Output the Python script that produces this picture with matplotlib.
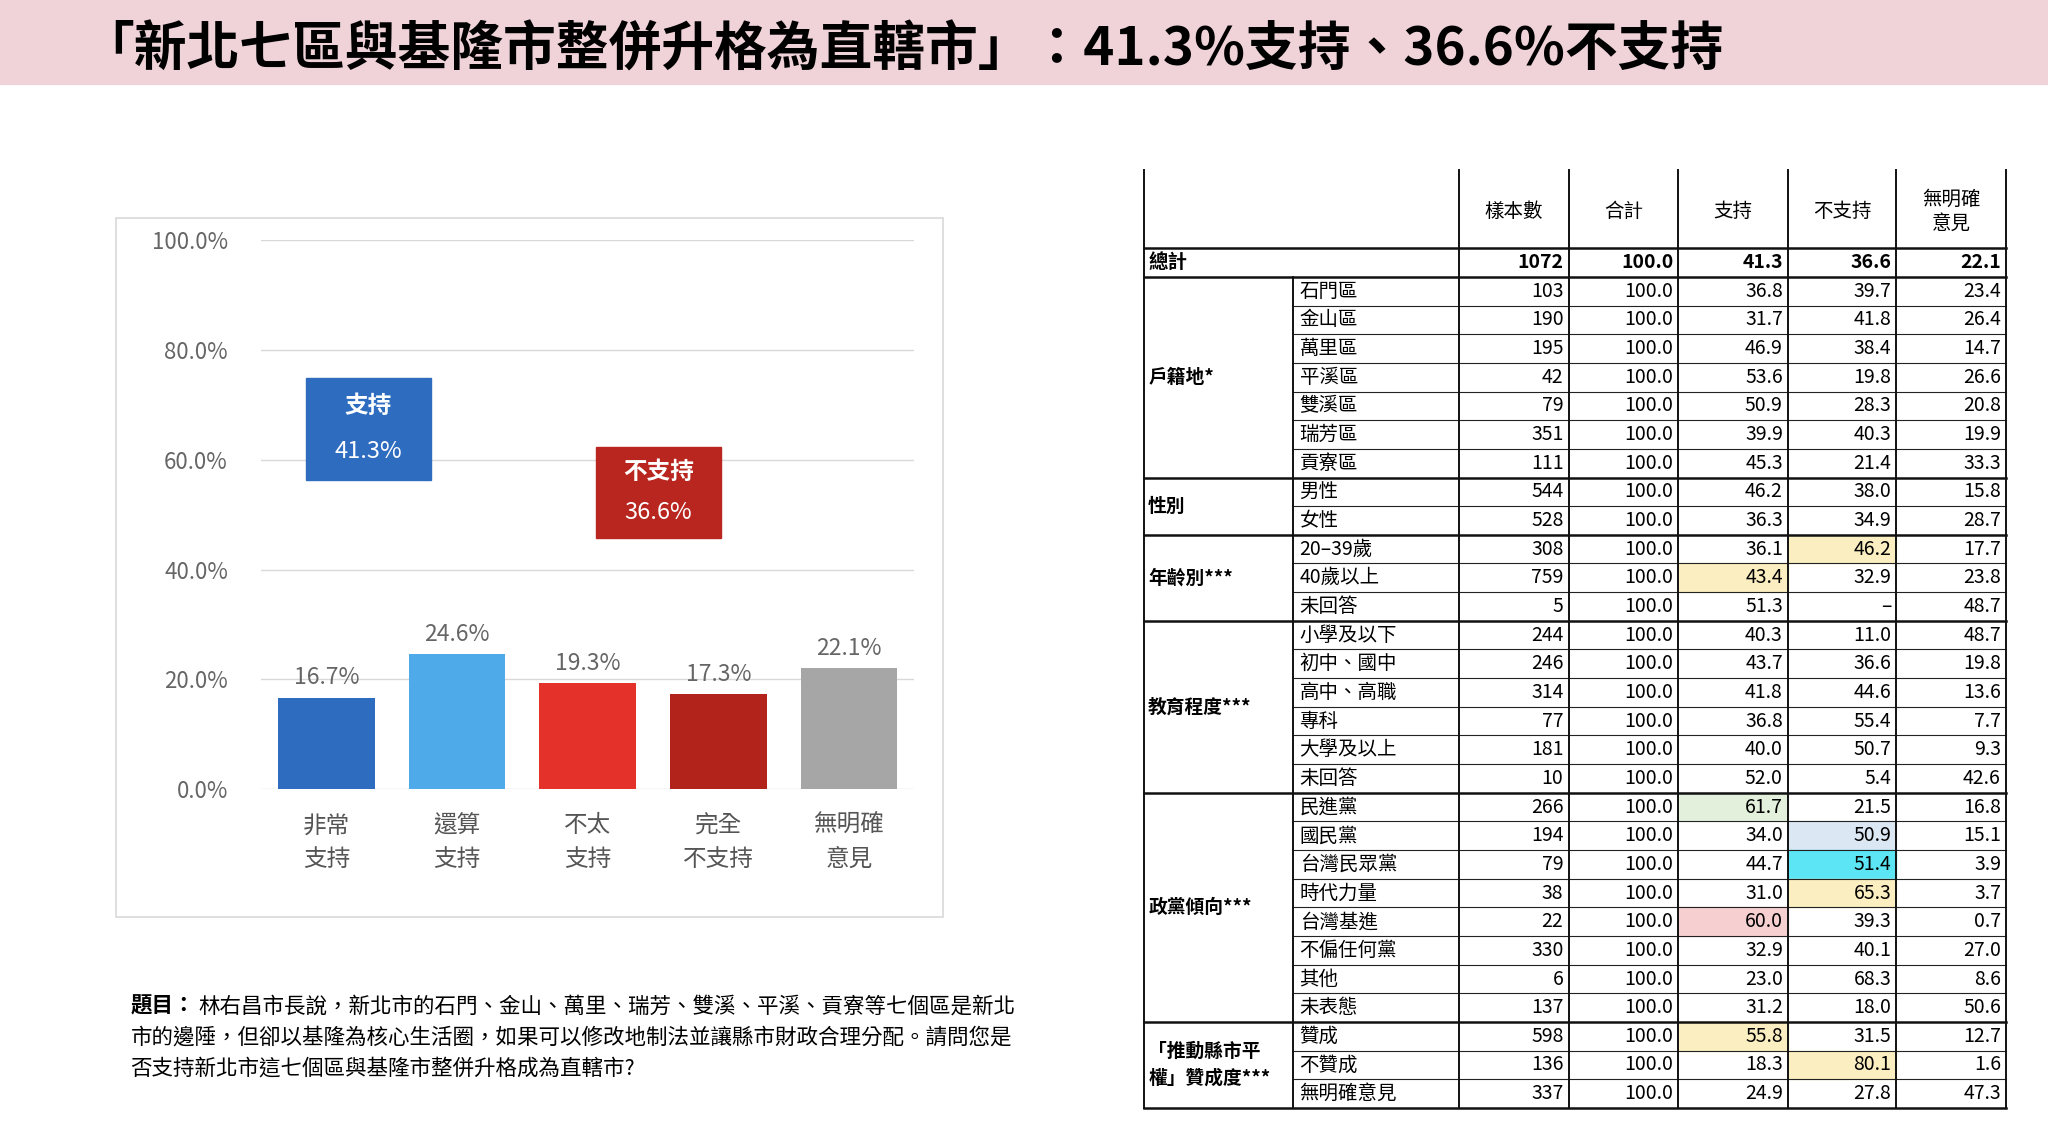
import matplotlib
matplotlib.use("Agg")
import matplotlib.pyplot as plt
from matplotlib.patches import Rectangle

plt.rcParams['font.family'] = ['Noto Sans CJK TC', 'DejaVu Sans']

title = "「新北七區與基隆市整併升格為直轄市」：41.3%支持、36.6%不支持"
categories = ["非常\n支持", "還算\n支持", "不太\n支持", "完全\n不支持", "無明確\n意見"]
values = [16.7, 24.6, 19.3, 17.3, 22.1]
bar_colors = ["#2e6cbf", "#4eaae8", "#e4322a", "#b2231c", "#a6a6a6"]
yticks = [0, 20, 40, 60, 80, 100]
summary = [("支持", 41.3, "#2e6cbf", 0.32, 56.4, 75.0), ("不支持", 36.6, "#b8261f", 2.54, 45.7, 62.4)]

question = ["林右昌市長說，新北市的石門、金山、萬里、瑞芳、雙溪、平溪、貢寮等七個區是新北",
            "市的邊陲，但卻以基隆為核心生活圈，如果可以修改地制法並讓縣市財政合理分配。請問您是",
            "否支持新北市這七個區與基隆市整併升格成為直轄市?"]

col_headers = ["樣本數", "合計", "支持", "不支持", "無明確\n意見"]
total_row = ["1072", "100.0", "41.3", "36.6", "22.1"]
groups = ["戶籍地*", "性別", "年齡別***", "教育程度***", "政黨傾向***", "「推動縣市平\n權」贊成度***"]
group_rows = [
    [("石門區", "103", "100.0", "36.8", "39.7", "23.4"), ("金山區", "190", "100.0", "31.7", "41.8", "26.4"),
     ("萬里區", "195", "100.0", "46.9", "38.4", "14.7"), ("平溪區", "42", "100.0", "53.6", "19.8", "26.6"),
     ("雙溪區", "79", "100.0", "50.9", "28.3", "20.8"), ("瑞芳區", "351", "100.0", "39.9", "40.3", "19.9"),
     ("貢寮區", "111", "100.0", "45.3", "21.4", "33.3")],
    [("男性", "544", "100.0", "46.2", "38.0", "15.8"), ("女性", "528", "100.0", "36.3", "34.9", "28.7")],
    [("20–39歲", "308", "100.0", "36.1", "46.2", "17.7"), ("40歲以上", "759", "100.0", "43.4", "32.9", "23.8"),
     ("未回答", "5", "100.0", "51.3", "–", "48.7")],
    [("小學及以下", "244", "100.0", "40.3", "11.0", "48.7"), ("初中、國中", "246", "100.0", "43.7", "36.6", "19.8"),
     ("高中、高職", "314", "100.0", "41.8", "44.6", "13.6"), ("專科", "77", "100.0", "36.8", "55.4", "7.7"),
     ("大學及以上", "181", "100.0", "40.0", "50.7", "9.3"), ("未回答", "10", "100.0", "52.0", "5.4", "42.6")],
    [("民進黨", "266", "100.0", "61.7", "21.5", "16.8"), ("國民黨", "194", "100.0", "34.0", "50.9", "15.1"),
     ("台灣民眾黨", "79", "100.0", "44.7", "51.4", "3.9"), ("時代力量", "38", "100.0", "31.0", "65.3", "3.7"),
     ("台灣基進", "22", "100.0", "60.0", "39.3", "0.7"), ("不偏任何黨", "330", "100.0", "32.9", "40.1", "27.0"),
     ("其他", "6", "100.0", "23.0", "68.3", "8.6"), ("未表態", "137", "100.0", "31.2", "18.0", "50.6")],
    [("贊成", "598", "100.0", "55.8", "31.5", "12.7"), ("不贊成", "136", "100.0", "18.3", "80.1", "1.6"),
     ("無明確意見", "337", "100.0", "24.9", "27.8", "47.3")],
]
# (row label, column header) -> colour
highlights = {("20–39歲", "不支持"): "#fbeec0", ("40歲以上", "支持"): "#fbeec0",
              ("民進黨", "支持"): "#e3f1dc", ("國民黨", "不支持"): "#dce7f4",
              ("台灣民眾黨", "不支持"): "#5ce6f5", ("時代力量", "不支持"): "#fbeec0",
              ("台灣基進", "支持"): "#f6d0d0", ("贊成", "支持"): "#fbeec0",
              ("不贊成", "不支持"): "#fbeec0"}

W, H = 1568, 864
fig = plt.figure(figsize=(20.48, 11.29), dpi=100)
bg = fig.add_axes([0, 0, 1, 1])
bg.set_xlim(0, W); bg.set_ylim(H, 0); bg.axis('off')
bg.add_patch(Rectangle((0, 0), W, 64, color="#efd3d9", zorder=0))
bg.text(62, 38, title, fontsize=38, fontweight='bold', va='center', ha='left')
bg.add_patch(Rectangle((89, 167), 633, 535, fill=False, ec="#d9d9d9", lw=1.2))

# question
qfs = 15.5
t = bg.text(100, 770, "題目：", fontsize=qfs, fontweight='bold', va='center')
bg.text(152, 770, question[0], fontsize=qfs, va='center')
bg.text(100, 794, question[1], fontsize=qfs, va='center')
bg.text(100, 818, question[2], fontsize=qfs, va='center')

# bar chart
ax = fig.add_axes([200 / W, 1 - 604 / H, 500 / W, 420 / H])
x = list(range(len(values)))
ax.bar(x, values, width=0.74, color=bar_colors, zorder=3)
ax.set_xlim(-0.5, 4.5); ax.set_ylim(0, 100)
ax.set_yticks(yticks)
ax.set_yticklabels([f"{t:.1f}%" for t in yticks], color="#666666", fontsize=16)
ax.grid(axis='y', color="#d9d9d9", lw=1)
for s in ax.spines.values():
    s.set_visible(False)
ax.tick_params(length=0, pad=24)
ax.set_xticks(x)
ax.set_xticklabels(categories, fontsize=17, color="#555555", linespacing=1.6)
ax.tick_params(axis='x', pad=18)
for xi, v in zip(x, values):
    ax.text(xi, v + 1.5, f"{v}%", ha='center', va='bottom', fontsize=16.5, color="#666666")
for lab, v, c, xc, y0, y1 in summary:
    ax.add_patch(Rectangle((xc - 0.48, y0), 0.96, y1 - y0, color=c, zorder=4))
    ax.text(xc, y0 + (y1 - y0) * 0.72, lab, ha='center', va='center', color='white', fontsize=17, fontweight='bold', zorder=5)
    ax.text(xc, y0 + (y1 - y0) * 0.28, f"{v}%", ha='center', va='center', color='white', fontsize=17, zorder=5)

# table
cx = [876, 990, 1117, 1201, 1285, 1369, 1452, 1536]
top, hdr, rh = 130, 190, 21.93
fs = 14
for i, h in enumerate(col_headers):
    bg.text((cx[i + 2] + cx[i + 3]) / 2, 162, h, ha='center', va='center', fontsize=fs, linespacing=1.2)
def rowy(r):
    return hdr + rh * r
bg.text(879, rowy(0.5), "總計", fontsize=fs, fontweight='bold', va='center')
for j, val in enumerate(total_row):
    bg.text(cx[j + 3] - 4, rowy(0.5), val, ha='right', va='center', fontsize=fs, fontweight='bold')
r = 1
thick = [hdr, rowy(1)]
for g, rows in zip(groups, group_rows):
    start = r
    for row in rows:
        for j in range(5):
            key = (row[0], col_headers[j])
            if key in highlights:
                bg.add_patch(Rectangle((cx[j + 2], rowy(r)), cx[j + 3] - cx[j + 2], rh, color=highlights[key], zorder=0.5))
        bg.text(995, rowy(r + 0.5), row[0], fontsize=fs, va='center')
        for j in range(5):
            bg.text(cx[j + 3] - 4, rowy(r + 0.5), row[j + 1], ha='right', va='center', fontsize=fs)
        if r > start:
            bg.plot([990, 1536], [rowy(r)] * 2, color='#222222', lw=0.8)
        r += 1
    bg.text(879, (rowy(start) + rowy(r)) / 2, g, fontsize=fs - 0.5, fontweight='bold', va='center', linespacing=1.5)
    thick.append(rowy(r))
for yy in thick:
    bg.plot([876, 1536], [yy, yy], color='#111111', lw=1.8)
for xx in cx[2:]:
    bg.plot([xx, xx], [top, rowy(r)], color='#111111', lw=1.4)
bg.plot([876, 876], [top, rowy(r)], color='#111111', lw=1.4)
bg.plot([990, 990], [rowy(1), rowy(r)], color='#111111', lw=1.4)

fig.savefig("out.png", dpi=100)
